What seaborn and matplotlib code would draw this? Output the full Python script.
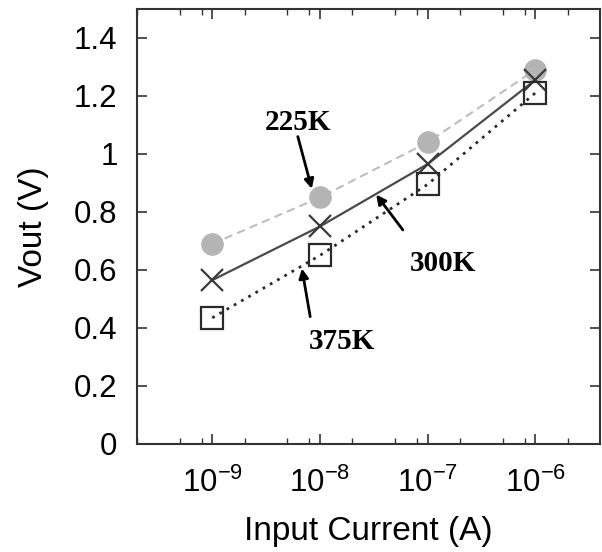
import pandas as pd
import numpy as np
import matplotlib
matplotlib.use("Agg")
import matplotlib.pyplot as plt
import matplotlib.ticker as mticker
import seaborn as sns

# Dados
corrente = [1e-9, 1e-8, 1e-7, 1e-6]
vout_225 = [0.69, 0.85, 1.04, 1.29]
vout_300 = [0.565, 0.75, 0.965, 1.255]
vout_375 = [0.435, 0.65, 0.895, 1.21]
rotulos_x = ['$10^{-9}$', '$10^{-8}$', '$10^{-7}$', '$10^{-6}$']

sns.set_theme(style="ticks")
plt.rcParams['font.family'] = ['Liberation Sans', 'DejaVu Sans']
plt.rcParams['mathtext.fontset'] = 'custom'
plt.rcParams['mathtext.rm'] = 'Liberation Sans'
plt.rcParams['mathtext.it'] = 'Liberation Sans'
plt.rcParams['text.color'] = 'black'
plt.rcParams['axes.labelcolor'] = 'black'

df = pd.DataFrame({
    'I': corrente * 3,
    'V': vout_225 + vout_300 + vout_375,
    'T': ['225K'] * 4 + ['300K'] * 4 + ['375K'] * 4,
})

estilos = {
    '225K': dict(color='#bdbdbd', linestyle=(0, (4, 2.5)), linewidth=1.5,
                 marker='o', markersize=15.5, markerfacecolor='#b4b4b4',
                 markeredgecolor='#b4b4b4'),
    '300K': dict(color='#4a4a4a', linestyle='-', linewidth=1.6,
                 marker='x', markersize=16, markeredgewidth=1.6,
                 markeredgecolor='#3a3a3a'),
    '375K': dict(color='#2a2a2a', linestyle=(0, (1, 2)), linewidth=2.0,
                 marker='s', markersize=16, markerfacecolor='none',
                 markeredgewidth=1.6, markeredgecolor='#2a2a2a'),
}

fig = plt.figure(figsize=(6.02, 5.52), dpi=100)
ax = fig.add_axes([0.2276, 0.1957, 0.769, 0.788])

for temp, kw in estilos.items():
    d = df[df['T'] == temp]
    sns.lineplot(data=d, x='I', y='V', ax=ax, legend=False, **kw)

ax.set_xscale('log')
ax.set_xlim(2e-10, 4e-6)
ax.set_ylim(0, 1.5)
ax.set_yticks(np.arange(0, 1.41, 0.2))
ax.yaxis.set_major_formatter(mticker.FormatStrFormatter('%g'))
ax.set_xticks(corrente)
ax.set_xticklabels(rotulos_x)
ax.xaxis.set_minor_locator(mticker.LogLocator(base=10, subs=[2, 5, 8], numticks=10))
ax.xaxis.set_minor_formatter(mticker.NullFormatter())

ax.set_xlabel('Input Current (A)', fontsize=24, labelpad=12)
ax.set_ylabel('Vout (V)', fontsize=24, labelpad=18)
ax.tick_params(axis='both', which='major', direction='in', length=7, width=1.2,
               labelsize=22.5, top=True, right=True, colors='#333333',
               labelcolor='black')
ax.tick_params(axis='y', which='major', pad=14)
ax.tick_params(axis='x', which='major', pad=17)
ax.tick_params(axis='x', which='minor', direction='in', length=4, width=1.0,
               top=True, colors='#333333')
for s in ax.spines.values():
    s.set_linewidth(1.5)
    s.set_color('#333333')

# Anotações
fonte = dict(fontsize=21, fontweight='bold', family=['Liberation Serif', 'DejaVu Serif'],
             ha='center', va='center', color='black')
seta = dict(arrowstyle='-|>', color='black', lw=2, mutation_scale=14, shrinkA=0, shrinkB=0)
ax.annotate('', xy=(10**-8.075, 0.88), xytext=(10**-8.205, 1.06), arrowprops=seta)
ax.text(10**-8.20, 1.107, '225K', **fonte)
ax.annotate('', xy=(10**-7.477, 0.86), xytext=(10**-7.229, 0.738), arrowprops=seta)
ax.text(10**-6.855, 0.624, '300K', **fonte)
ax.annotate('', xy=(10**-8.167, 0.605), xytext=(10**-8.09, 0.439), arrowprops=seta)
ax.text(10**-7.796, 0.353, '375K', **fonte)

plt.savefig('out.png', dpi=100)
plt.close()
